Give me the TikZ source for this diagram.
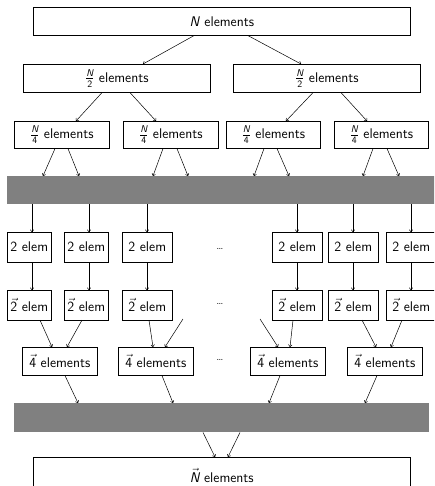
\documentclass[tikz,border=0pt]{standalone}
\usepackage{amsmath}
\usetikzlibrary{arrows.meta}
\begin{document}
\begin{tikzpicture}[x=1pt,y=-1pt,
  font=\fontsize{14}{16}\selectfont\sffamily,
  box/.style={draw,line width=0.6pt,rectangle,inner sep=0pt,anchor=north west},
  bar/.style={fill=gray,draw=none,inner sep=0pt,anchor=north west},
  arr/.style={line width=0.5pt,-{To[length=2.5pt,width=4pt]}},
  dotsnode/.style={font=\fontsize{11}{12}\selectfont,inner sep=0pt,anchor=base}]
\clip (0,0) rectangle (434,486);
% top
\node[box,minimum width=377pt,minimum height=28pt] (top) at (33,7) {\textit{N} elements};
% N/2
\node[box,minimum width=187pt,minimum height=28pt] (h1) at (23,64) {$\frac{\text{\itshape N}}{\text{2}}$ elements};
\node[box,minimum width=187pt,minimum height=28pt] (h2) at (233,64) {$\frac{\text{\itshape N}}{\text{2}}$ elements};
% N/4
\node[box,minimum width=95pt,minimum height=27pt] (q1) at (14,121) {$\frac{\text{\itshape N}}{\text{4}}$ elements};
\node[box,minimum width=95pt,minimum height=27pt] (q2) at (123,121) {$\frac{\text{\itshape N}}{\text{4}}$ elements};
\node[box,minimum width=94pt,minimum height=27pt] (q3) at (226,121) {$\frac{\text{\itshape N}}{\text{4}}$ elements};
\node[box,minimum width=94pt,minimum height=27pt] (q4) at (334,121) {$\frac{\text{\itshape N}}{\text{4}}$ elements};
% bar 1
\node[bar,minimum width=440pt,minimum height=28pt] (bar1) at (7,176) {};
% 2 elem
\node[box,minimum width=44pt,minimum height=29.5pt] (a1) at (7,232) {2 elem};
\node[box,minimum width=44pt,minimum height=29.5pt] (a2) at (64,232) {2 elem};
\node[box,minimum width=50pt,minimum height=29.5pt] (a3) at (122,232) {2 elem};
\node[box,minimum width=50pt,minimum height=29.5pt] (a4) at (272,232) {2 elem};
\node[box,minimum width=50pt,minimum height=29.5pt] (a5) at (328,232) {2 elem};
\node[box,minimum width=50pt,minimum height=29.5pt] (a6) at (386,232) {2 elem};
\node[dotsnode] (d1) at (220,249) {\dots};
% 2vec elem
\node[box,minimum width=44pt,minimum height=29.5pt] (b1) at (7,290) {$\vec{\text{2}}$ elem};
\node[box,minimum width=44pt,minimum height=29.5pt] (b2) at (64,290) {$\vec{\text{2}}$ elem};
\node[box,minimum width=50pt,minimum height=29.5pt] (b3) at (122,290) {$\vec{\text{2}}$ elem};
\node[box,minimum width=50pt,minimum height=29.5pt] (b4) at (272,290) {$\vec{\text{2}}$ elem};
\node[box,minimum width=50pt,minimum height=29.5pt] (b5) at (328,290) {$\vec{\text{2}}$ elem};
\node[box,minimum width=50pt,minimum height=29.5pt] (b6) at (386,290) {$\vec{\text{2}}$ elem};
\node[dotsnode] (d2) at (220,304) {\dots};
% 4vec elements
\node[box,minimum width=75pt,minimum height=28pt] (c1) at (22,347) {$\vec{\text{4}}$ elements};
\node[box,minimum width=75pt,minimum height=28pt] (c2) at (118,347) {$\vec{\text{4}}$ elements};
\node[box,minimum width=75pt,minimum height=28pt] (c3) at (250,347) {$\vec{\text{4}}$ elements};
\node[box,minimum width=75pt,minimum height=28pt] (c4) at (347,347) {$\vec{\text{4}}$ elements};
\node[dotsnode] (d3) at (220,360) {\dots};
% bar 2
\node[bar,minimum width=415pt,minimum height=29pt] (bar2) at (14,403) {};
% bottom
\node[box,minimum width=377pt,minimum height=36pt] (bot) at (33,457) {$\vec{\text{\itshape N}}$ elements};
% hidden-origin coordinates
\coordinate (o1) at (183,319);
\coordinate (o2) at (260,319);
% arrows top -> N/2
\draw[arr] (top.south -| 194,0) -- (h1.north -| 143,0);
\draw[arr] (top.south -| 248,0) -- (h2.north -| 301,0);
% N/2 -> N/4
\draw[arr] (h1.south -| 102,0) -- (q1.north -| 76,0);
\draw[arr] (h1.south -| 130,0) -- (q2.north -| 156,0);
\draw[arr] (h2.south -| 313,0) -- (q3.north -| 286,0);
\draw[arr] (h2.south -| 341,0) -- (q4.north -| 367,0);
% N/4 -> bar1
\draw[arr] (q1.south -| 55,0) -- (bar1.north -| 43,0);
\draw[arr] (q1.south -| 68,0) -- (bar1.north -| 79,0);
\draw[arr] (q2.south -| 163,0) -- (bar1.north -| 153,0);
\draw[arr] (q2.south -| 177,0) -- (bar1.north -| 188,0);
\draw[arr] (q3.south -| 264,0) -- (bar1.north -| 254,0);
\draw[arr] (q3.south -| 277,0) -- (bar1.north -| 289,0);
\draw[arr] (q4.south -| 373,0) -- (bar1.north -| 363,0);
\draw[arr] (q4.south -| 387,0) -- (bar1.north -| 399,0);
% bar1 -> 2 elem
\foreach \n/\x in {a1/32,a2/89,a3/147,a4/297,a5/353,a6/411}
  \draw[arr] (bar1.south -| \x,0) -- (\n.north -| \x,0);
% 2 elem -> 2vec elem
\foreach \m/\n/\x in {a1/b1/32,a2/b2/89,a3/b3/147,a4/b4/297,a5/b5/353,a6/b6/411}
  \draw[arr] (\m.south -| \x,0) -- (\n.north -| \x,0);
% 2vec -> 4vec
\draw[arr] (b1.south -| 40,0) -- (c1.north -| 52,0);
\draw[arr] (b2.south -| 82,0) -- (c1.north -| 67,0);
\draw[arr] (b3.south -| 149,0) -- (c2.north -| 153,0);
\draw[arr] (o1) -- (c2.north -| 165,0);
\draw[arr] (o2) -- (c3.north -| 278,0);
\draw[arr] (b4.south -| 293,0) -- (c3.north -| 290,0);
\draw[arr] (b5.south -| 362,0) -- (c4.north -| 376,0);
\draw[arr] (b6.south -| 402,0) -- (c4.north -| 391,0);
% 4vec -> bar2
\draw[arr] (c1.south -| 65,0) -- (bar2.north -| 78,0);
\draw[arr] (c2.south -| 162,0) -- (bar2.north -| 173,0);
\draw[arr] (c3.south -| 280,0) -- (bar2.north -| 269,0);
\draw[arr] (c4.south -| 377,0) -- (bar2.north -| 365,0);
% bar2 -> bottom
\draw[arr] (bar2.south -| 203,0) -- (bot.north -| 215,0);
\draw[arr] (bar2.south -| 240,0) -- (bot.north -| 228,0);
\end{tikzpicture}
\end{document}
